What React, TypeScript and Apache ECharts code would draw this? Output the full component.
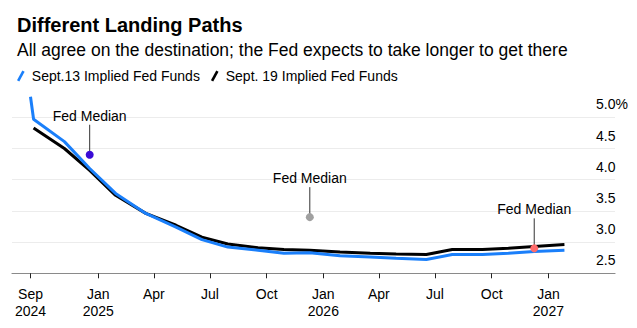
import React, { useEffect, useRef } from "react";
import * as echarts from "echarts";

// ---- Data ----
const sept13Dates = [
  "2024-09-13", "2024-09-18", "2024-11-07", "2024-12-18",
  "2025-01-29", "2025-03-19", "2025-05-07", "2025-06-18", "2025-07-30", "2025-09-17", "2025-10-29", "2025-12-10",
  "2026-01-28", "2026-03-18", "2026-04-29", "2026-06-17", "2026-07-29", "2026-09-16", "2026-10-28", "2026-12-09",
  "2027-01-27",
];
const sept13Values = [
  5.33, 4.97, 4.61, 4.18,
  3.78, 3.46, 3.24, 3.04, 2.92, 2.87, 2.82, 2.83,
  2.78, 2.76, 2.74, 2.72, 2.80, 2.80, 2.82, 2.85,
  2.87,
];

const sept19Dates = [
  "2024-09-18", "2024-11-07", "2024-12-18",
  "2025-01-29", "2025-03-19", "2025-05-07", "2025-06-18", "2025-07-30", "2025-09-17", "2025-10-29", "2025-12-10",
  "2026-01-28", "2026-03-18", "2026-04-29", "2026-06-17", "2026-07-29", "2026-09-16", "2026-10-28", "2026-12-09",
  "2027-01-27",
];
const sept19Values = [
  4.83, 4.50, 4.15,
  3.75, 3.46, 3.27, 3.08, 2.97, 2.91, 2.88, 2.87,
  2.84, 2.82, 2.81, 2.80, 2.88, 2.88, 2.90, 2.93,
  2.96,
];

const medianDates = ["2024-12-18", "2025-12-10", "2026-12-09"];
const medianValues = [4.4, 3.4, 2.9];
const medianColors = ["#3a0bd6", "#a0a0a0", "#ff6b6b"];

const tickDates = [
  "2024-09-13", "2025-01-01", "2025-04-01", "2025-07-01", "2025-10-01",
  "2026-01-01", "2026-04-01", "2026-07-01", "2026-10-01", "2027-01-01",
];
const tickLabels = [
  "Sep\n2024", "Jan\n2025", "Apr", "Jul", "Oct",
  "Jan\n2026", "Apr", "Jul", "Oct", "Jan\n2027",
];

const seriesNames = ["Sept.13 Implied Fed Funds", "Sept. 19 Implied Fed Funds"];

const FONT = '"Liberation Sans", Arial, Helvetica, sans-serif';

function ts(s: string): number {
  const [y, m, d] = s.split("-").map(Number);
  return Date.UTC(y, m - 1, d);
}

export default function App() {
  const ref = useRef<HTMLDivElement>(null);

  useEffect(() => {
    if (!ref.current) return;
    const chart = echarts.init(ref.current, undefined, { renderer: "svg" });
    const tickTs = tickDates.map(ts);
    const legendIcon = "path://M0,11 L6,0 L8.6,1.4 L2.6,12.4 Z";

    chart.setOption({
      animation: false,
      textStyle: { fontFamily: FONT },
      title: [
        {
          text: "Different Landing Paths",
          left: 12,
          top: 8,
          textStyle: { fontSize: 20, fontWeight: "bold", color: "#000", fontFamily: FONT, lineHeight: 24 },
        },
        {
          text: "All agree on the destination; the Fed expects to take longer to get there",
          left: 12,
          top: 35,
          textStyle: { fontSize: 17.5, fontWeight: "normal", color: "#000", fontFamily: FONT, lineHeight: 20 },
        },
      ],
      legend: {
        data: seriesNames,
        left: 12,
        top: 64,
        itemWidth: 8,
        itemHeight: 11,
        itemGap: 11,
        icon: legendIcon,
        textStyle: { fontSize: 14, color: "#000", fontFamily: FONT, padding: [0, 0, 0, 2] },
      },
      grid: {
        left: 12,
        right: 22,
        top: 117.3,
        bottom: 54.7,
        containLabel: false,
        outerBoundsMode: "none",
      },
      xAxis: {
        type: "value",
        min: ts("2024-08-14"),
        max: ts("2027-04-19"),
        z: 5,
        axisLine: { show: true, lineStyle: { color: "#8a8a8a", width: 1.2 } },
        axisTick: {
          show: true,
          length: 5,
          lineStyle: { color: "#222", width: 1 },
          customValues: tickTs,
        },
        axisLabel: {
          customValues: tickTs,
          fontSize: 14,
          lineHeight: 17,
          margin: 12.5,
          color: "#000",
          fontFamily: FONT,
          hideOverlap: false,
          showMinLabel: true,
          showMaxLabel: true,
          formatter: (v: number) => {
            const i = tickTs.indexOf(v);
            return i >= 0 ? tickLabels[i] : "";
          },
        },
        splitLine: { show: false },
      },
      yAxis: {
        type: "value",
        position: "right",
        min: 2.5,
        max: 5,
        interval: 0.5,
        axisLine: { show: false },
        axisTick: { show: false },
        axisLabel: {
          inside: true,
          align: "left",
          verticalAlign: "bottom",
          margin: 19,
          fontSize: 14,
          lineHeight: 14,
          padding: [0, 0, 6, 0],
          color: "#000",
          fontFamily: FONT,
          formatter: (v: number) => (v === 5 ? "5.0%" : v.toFixed(1)),
        },
        splitLine: { show: true, lineStyle: { color: "#ececec", width: 1 } },
      },
      series: [
        {
          name: seriesNames[1],
          type: "line",
          data: sept19Dates.map((d, i) => [ts(d), sept19Values[i]]),
          showSymbol: false,
          clip: false,
          color: "#000000",
          lineStyle: { color: "#000000", width: 3 },
          z: 2,
        },
        {
          name: seriesNames[0],
          type: "line",
          data: sept13Dates.map((d, i) => [ts(d), sept13Values[i]]),
          showSymbol: false,
          clip: false,
          color: "#1a7ffa",
          lineStyle: { color: "#1a7ffa", width: 3 },
          z: 3,
        },
        {
          name: "Fed Median",
          type: "custom",
          clip: false,
          z: 4,
          data: medianDates.map((d, i) => [ts(d), medianValues[i]]),
          renderItem: (params: any, api: any) => {
            const pt = api.coord([api.value(0), api.value(1)]);
            const color = medianColors[params.dataIndex];
            return {
              type: "group",
              children: [
                {
                  type: "line",
                  shape: { x1: pt[0], y1: pt[1], x2: pt[0], y2: pt[1] - 30 },
                  style: { stroke: "#333", lineWidth: 1 },
                },
                {
                  type: "circle",
                  shape: { cx: pt[0], cy: pt[1], r: 4 },
                  style: { fill: color },
                },
                {
                  type: "text",
                  x: pt[0],
                  y: pt[1] - 39,
                  style: {
                    text: "Fed Median",
                    fill: "#000",
                    fontSize: 14,
                    fontFamily: FONT,
                    align: "center",
                    verticalAlign: "middle",
                  },
                },
              ],
            };
          },
        },
      ],
    });

    return () => chart.dispose();
  }, []);

  return (
    <div
      ref={ref}
      style={{ position: "fixed", left: 0, top: 0, width: 637, height: 328, background: "#fff" }}
    />
  );
}
